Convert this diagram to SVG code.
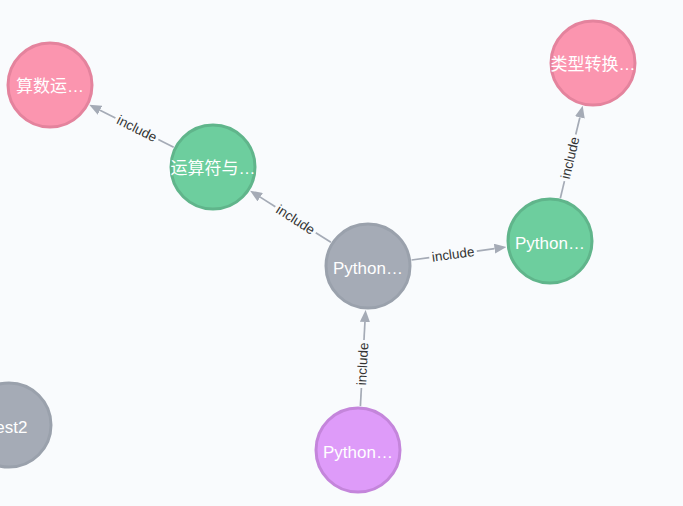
<svg xmlns="http://www.w3.org/2000/svg" width="683" height="506" viewBox="0 0 683 506">
<defs>
<marker id="arr" markerUnits="userSpaceOnUse" markerWidth="12" markerHeight="10" viewBox="0 0 12 10" refX="0" refY="5" orient="auto">
<path d="M0,0 L12,5 L0,10 z" fill="#A5ABB6"/>
</marker>
<style>
.n circle{stroke-width:3}
.n text{fill:#fff;font-family:"Liberation Sans","Noto Sans CJK SC",sans-serif;font-size:17px;text-anchor:middle;dominant-baseline:central}
.pink circle{fill:#FB95AF;stroke:#E4839D}
.green circle{fill:#6DCE9E;stroke:#60B58B}
.grey circle{fill:#A5ABB6;stroke:#9AA1AC}
.purple circle{fill:#DE9BF9;stroke:#C485DB}
.e line{stroke:#A5ABB6;stroke-width:1.7}
.e text{fill:#333;font-family:"Liberation Sans",sans-serif;font-size:13.5px;text-anchor:middle;dominant-baseline:central}
</style>
</defs>
<rect width="683" height="506" fill="#F9FBFD"/>
<g id="edges" class="e">
<g transform="translate(131.5 126) rotate(-153.3)">
<line x1="-47.25" y1="0" x2="-30" y2="0"/>
<line x1="18" y1="0" x2="35.25" y2="0" marker-end="url(#arr)"/>
<text x="-6" y="0" transform="rotate(180 -6 0)">include</text>
</g>
<g transform="translate(290.5 216.5) rotate(-147.4)">
<line x1="-47.95" y1="0" x2="-30" y2="0"/>
<line x1="18" y1="0" x2="35.95" y2="0" marker-end="url(#arr)"/>
<text x="-6" y="0" transform="rotate(180 -6 0)">include</text>
</g>
<g transform="translate(459 253.5) rotate(-7.82)">
<line x1="-47.85" y1="0" x2="-30" y2="0"/>
<line x1="18" y1="0" x2="35.85" y2="0" marker-end="url(#arr)"/>
<text x="-6" y="0">include</text>
</g>
<g transform="translate(571.5 152) rotate(-76.4)">
<line x1="-47.55" y1="0" x2="-30" y2="0"/>
<line x1="18" y1="0" x2="35.55" y2="0" marker-end="url(#arr)"/>
<text x="-6" y="0">include</text>
</g>
<g transform="translate(363 358) rotate(-86.9)">
<line x1="-48.15" y1="0" x2="-30" y2="0"/>
<line x1="18" y1="0" x2="36.15" y2="0" marker-end="url(#arr)"/>
<text x="-6" y="0">include</text>
</g>
</g>
<g id="n-suanshu" class="n pink"><circle cx="50" cy="85" r="42"/><text x="50" y="86">算数运…</text></g>
<g id="n-yunsuanfu" class="n green"><circle cx="213" cy="167" r="42"/><text x="213" y="168">运算符与…</text></g>
<g id="n-python-center" class="n grey"><circle cx="368" cy="266" r="42"/><text x="368" y="268">Python…</text></g>
<g id="n-python-right" class="n green"><circle cx="550" cy="241" r="42"/><text x="550" y="243">Python…</text></g>
<g id="n-leixing" class="n pink"><circle cx="593" cy="63" r="42"/><text x="593" y="64">类型转换…</text></g>
<g id="n-python-bottom" class="n purple"><circle cx="358" cy="450" r="42"/><text x="358" y="452">Python…</text></g>
<g id="n-test2" class="n grey"><circle cx="9" cy="425" r="42"/><text x="9" y="427">test2</text></g>
</svg>
